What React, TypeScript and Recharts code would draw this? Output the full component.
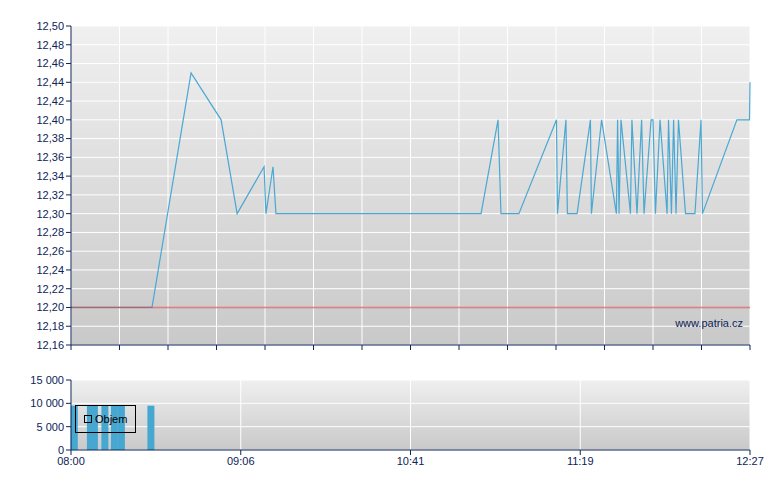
import React from "react";
import {
  LineChart,
  Line,
  BarChart,
  Bar,
  XAxis,
  YAxis,
  CartesianGrid,
  ReferenceLine,
} from "recharts";

// x positions are slots on the compressed trading axis (0..280)
const slots = [
  0, 33.4, 49.5, 61.9, 68.5, 79.6, 80.4, 83.3, 84.5, 169.1, 176.1, 177.3, 184.7,
  200.2, 200.6, 204.1, 204.7, 208.7, 214.2, 214.6, 218.8, 224.9, 225.4, 226.0,
  226.8, 230.7, 231.3, 233.4, 235.3, 236.3, 239.2, 240.0, 241.0, 242.9, 245.8,
  246.4, 247.6, 248.5, 249.5, 250.5, 253.4, 257.3, 259.8, 260.4, 274.6, 279.8, 280,
];
const prices = [
  12.2, 12.2, 12.45, 12.4, 12.3, 12.35, 12.3, 12.35, 12.3, 12.3, 12.4, 12.3, 12.3,
  12.4, 12.3, 12.4, 12.3, 12.3, 12.4, 12.3, 12.4, 12.3, 12.4, 12.3,
  12.4, 12.3, 12.4, 12.3, 12.4, 12.3, 12.4, 12.4, 12.3, 12.4, 12.3,
  12.4, 12.3, 12.4, 12.3, 12.4, 12.3, 12.3, 12.4, 12.3, 12.4, 12.4, 12.44,
];

const volSlots = [1.4, 8.04, 9.69, 14.02, 17.94, 20.82, 32.99];
const volumes = [9500, 9500, 9500, 9500, 9500, 9500, 9500];

const priceTicks = [
  12.16, 12.18, 12.2, 12.22, 12.24, 12.26, 12.28, 12.3, 12.32, 12.34, 12.36,
  12.38, 12.4, 12.42, 12.44, 12.46, 12.48, 12.5,
];
const gridSlots = [0, 20, 40, 60, 80, 100, 120, 140, 160, 180, 200, 220, 240, 260, 280];
const timeTicks = [0, 70, 140, 210, 280];
const timeLabels = ["08:00", "09:06", "10:41", "11:19", "12:27"];
const volTicks = [0, 5000, 10000, 15000];
const prevClose = 12.2;

const NAVY = "#0d2457";
const FONT = "Arial, 'Liberation Sans', sans-serif";
const tickStyle = { fontSize: 11, fill: NAVY, fontFamily: FONT };
const BAR_W = 7;

const priceData = slots.map((x, i) => ({ x, price: prices[i] }));
const volData = volSlots.map((x, i) => ({ x, vol: volumes[i] }));

const fmtPrice = (v: number) => v.toFixed(2).replace(".", ",");
const fmtVol = (v: number) => v.toLocaleString("en-US").replace(/,/g, " ");

// keep the bar centred where the scale put it, but give it a fixed width
function VolBar(props: any) {
  const { x, y, width, height, fill } = props;
  if (height == null || height <= 0) return null;
  const cx = x + width / 2;
  return <rect x={cx - BAR_W / 2} y={y} width={BAR_W} height={height} fill={fill} />;
}

export default function App() {
  return (
    <div style={{ position: "relative", width: 780, height: 490, background: "#fff" }}>
      <style>{"body{margin:0}"}</style>
      <div style={{ position: "absolute", left: 0, top: 0 }}>
        <LineChart width={780} height={360} data={priceData} margin={{ top: 26, right: 30, left: 10, bottom: 0 }}>
          <defs>
            <linearGradient id="bgTop" x1="0" y1="0" x2="0" y2="1">
              <stop offset="0%" stopColor="#f0f0f0" />
              <stop offset="100%" stopColor="#c9c9c9" />
            </linearGradient>
          </defs>
          <CartesianGrid
            stroke="#ffffff"
            strokeWidth={1}
            fill="url(#bgTop)"
            fillOpacity={1}
            verticalValues={gridSlots}
            horizontalValues={priceTicks}
          />
          <XAxis
            type="number"
            dataKey="x"
            domain={[0, 280]}
            ticks={gridSlots}
            tickFormatter={() => ""}
            height={15}
            tickSize={5}
            axisLine={{ stroke: NAVY }}
            tickLine={{ stroke: NAVY }}
          />
          <YAxis
            type="number"
            domain={[12.16, 12.5]}
            ticks={priceTicks}
            tickFormatter={fmtPrice}
            width={61}
            tickSize={5}
            tick={tickStyle}
            interval={0}
            axisLine={{ stroke: NAVY }}
            tickLine={{ stroke: NAVY }}
          />
          <Line
            type="linear"
            dataKey="price"
            stroke="#4aa8d2"
            strokeWidth={1.2}
            dot={false}
            isAnimationActive={false}
          />
          <ReferenceLine y={prevClose} stroke="#d04a4a" strokeOpacity={0.7} strokeWidth={1.5} />
        </LineChart>
      </div>
      <div
        style={{
          position: "absolute",
          right: 37,
          top: 317,
          fontFamily: FONT,
          fontSize: 11,
          color: NAVY,
        }}
      >
        www.patria.cz
      </div>
      <div style={{ position: "absolute", left: 0, top: 360 }}>
        <BarChart width={780} height={115} data={volData} margin={{ top: 20, right: 30, left: 10, bottom: 0 }}>
          <defs>
            <linearGradient id="bgBot" x1="0" y1="0" x2="0" y2="1">
              <stop offset="0%" stopColor="#efefef" />
              <stop offset="100%" stopColor="#c9c9c9" />
            </linearGradient>
          </defs>
          <CartesianGrid
            stroke="#ffffff"
            strokeWidth={1}
            fill="url(#bgBot)"
            fillOpacity={1}
            verticalValues={timeTicks}
            horizontalValues={volTicks}
          />
          <XAxis
            type="number"
            dataKey="x"
            domain={[0, 280]}
            ticks={timeTicks}
            tickFormatter={(v: number) => timeLabels[timeTicks.indexOf(v)] ?? ""}
            height={25}
            tickSize={5}
            tick={tickStyle}
            interval={0}
            axisLine={{ stroke: NAVY }}
            tickLine={{ stroke: NAVY }}
          />
          <YAxis
            type="number"
            domain={[0, 15000]}
            ticks={volTicks}
            tickFormatter={fmtVol}
            width={61}
            tickSize={5}
            tick={tickStyle}
            interval={0}
            axisLine={{ stroke: NAVY }}
            tickLine={{ stroke: NAVY }}
          />
          <Bar dataKey="vol" name="Objem" fill="#46a7d1" shape={VolBar} isAnimationActive={false} />
        </BarChart>
      </div>
      <div
        style={{
          position: "absolute",
          left: 75,
          top: 405,
          width: 59,
          height: 26,
          border: "1px solid #000",
          display: "flex",
          alignItems: "center",
          fontFamily: FONT,
          fontSize: 11,
          color: "#000",
        }}
      >
        <span
          style={{
            display: "inline-block",
            width: 6,
            height: 6,
            border: "1px solid #000",
            marginLeft: 8,
            marginRight: 3,
          }}
        />
        Objem
      </div>
    </div>
  );
}
